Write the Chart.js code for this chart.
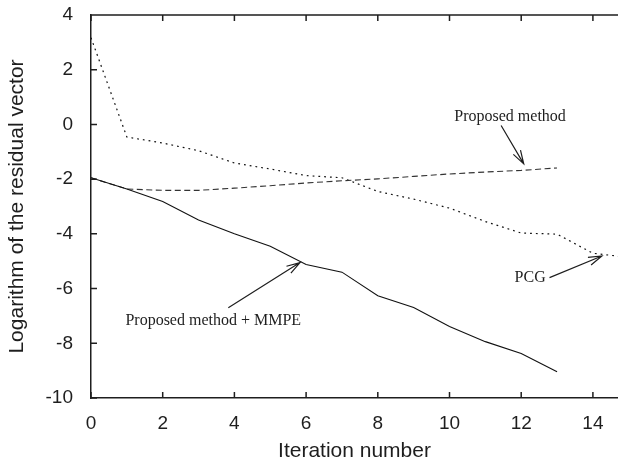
<!DOCTYPE html>
<html>
<head>
<meta charset="utf-8">
<script src="https://cdn.jsdelivr.net/npm/chart.js@4.4.1/dist/chart.umd.min.js"></script>
<style>
    html, body { margin: 0; padding: 0; background: #fff; }
    #wrap { width: 618px; height: 464px; }
</style>
</head>
<body>
<div id="wrap"><canvas id="residual_plot" width="618" height="464"></canvas></div>
<script>
'use strict';

// values
const iterations = [0, 1, 2, 3, 4, 5, 6, 7, 8, 9, 10, 11, 12, 13];
const pcgIterations = [0, 1, 2, 3, 4, 5, 6, 7, 8, 9, 10, 11, 12, 13, 14, 15];
const mmpeValues = [-1.95, -2.36, -2.82, -3.49, -4.0, -4.45, -5.12, -5.40, -6.26, -6.69, -7.39, -7.94, -8.37, -9.04];
const proposedValues = [-1.95, -2.36, -2.41, -2.41, -2.33, -2.24, -2.14, -2.06, -1.99, -1.90, -1.81, -1.74, -1.68, -1.59];
const pcgValues = [3.17, -0.46, -0.68, -0.96, -1.41, -1.63, -1.87, -1.95, -2.45, -2.73, -3.06, -3.55, -3.97, -4.01, -4.71, -4.86];

const xTicks = [0, 2, 4, 6, 8, 10, 12, 14];
const yTicks = [-10, -8, -6, -4, -2, 0, 2, 4];

// labels with arrows, in data units: text position, arrow tail, arrow tip
const notes = [
    { text: 'Proposed method', tx: 11.69, ty: 0.29, ax: 11.44, ay: -0.04, bx: 12.07, by: -1.44 },
    { text: 'PCG', tx: 12.25, ty: -5.61, ax: 12.79, ay: -5.60, bx: 14.25, by: -4.81 },
    { text: 'Proposed method + MMPE', tx: 3.41, ty: -7.17, ax: 3.83, ay: -6.70, bx: 5.83, by: -5.05 }
];

const ink = '#1e1e1e';

function toPoints(xs, ys) {
    return ys.map((y, i) => ({ x: xs[i], y: y }));
}

// inward tick marks + top frame line, gnuplot style
const frameTicks = {
    id: 'frameTicks',
    afterDatasetsDraw(chart) {
        const ctx = chart.ctx;
        const area = chart.chartArea;
        const xs = chart.scales.x;
        const ys = chart.scales.y;
        ctx.save();
        ctx.strokeStyle = ink;
        ctx.lineWidth = 1.5;
        ctx.beginPath();
        ctx.moveTo(area.left, area.top);
        ctx.lineTo(area.right, area.top);
        xTicks.forEach(v => {
            const px = xs.getPixelForValue(v);
            ctx.moveTo(px, area.bottom);
            ctx.lineTo(px, area.bottom - 6);
            ctx.moveTo(px, area.top);
            ctx.lineTo(px, area.top + 6);
        });
        yTicks.forEach(v => {
            const py = ys.getPixelForValue(v);
            ctx.moveTo(area.left, py);
            ctx.lineTo(area.left + 6, py);
        });
        ctx.stroke();
        ctx.restore();
    }
};

const arrowNotes = {
    id: 'arrowNotes',
    afterDatasetsDraw(chart) {
        const ctx = chart.ctx;
        const xs = chart.scales.x;
        const ys = chart.scales.y;
        ctx.save();
        ctx.strokeStyle = ink;
        ctx.fillStyle = ink;
        ctx.lineWidth = 1.2;
        ctx.font = '16px "Liberation Serif", "Times New Roman", serif';
        ctx.textAlign = 'center';
        ctx.textBaseline = 'middle';
        notes.forEach(n => {
            ctx.fillText(n.text, xs.getPixelForValue(n.tx), ys.getPixelForValue(n.ty));
            const x1 = xs.getPixelForValue(n.ax);
            const y1 = ys.getPixelForValue(n.ay);
            const x2 = xs.getPixelForValue(n.bx);
            const y2 = ys.getPixelForValue(n.by);
            const ang = Math.atan2(y2 - y1, x2 - x1);
            const len = 14;
            const spread = 0.3;
            ctx.beginPath();
            ctx.moveTo(x1, y1);
            ctx.lineTo(x2, y2);
            ctx.moveTo(x2 - len * Math.cos(ang - spread), y2 - len * Math.sin(ang - spread));
            ctx.lineTo(x2, y2);
            ctx.lineTo(x2 - len * Math.cos(ang + spread), y2 - len * Math.sin(ang + spread));
            ctx.stroke();
        });
        ctx.restore();
    }
};

const sans = '"Liberation Sans", Arial, Helvetica, sans-serif';

new Chart(document.getElementById('residual_plot'), {
    type: 'line',
    data: {
        datasets: [{
            label: 'Proposed method + MMPE',
            data: toPoints(iterations, mmpeValues),
            borderColor: '#111',
            borderWidth: 1.1,
            pointRadius: 0,
            tension: 0
        }, {
            label: 'Proposed method',
            data: toPoints(iterations, proposedValues),
            borderColor: '#333',
            borderWidth: 1.1,
            borderDash: [6, 3.5],
            pointRadius: 0,
            tension: 0
        }, {
            label: 'PCG',
            data: toPoints(pcgIterations, pcgValues),
            borderColor: '#111',
            borderWidth: 1.2,
            borderDash: [1.8, 4],
            pointRadius: 0,
            tension: 0
        }]
    },
    options: {
        responsive: false,
        animation: false,
        events: [],
        layout: { padding: { top: 15, right: 0, left: 0, bottom: 0 } },
        plugins: {
            legend: { display: false },
            tooltip: { enabled: false }
        },
        scales: {
            x: {
                type: 'linear',
                min: 0,
                max: 14.7,
                afterBuildTicks(scale) {
                    scale.ticks = xTicks.map(v => ({ value: v }));
                },
                afterFit(scale) {
                    scale.height = 66;
                    scale.paddingLeft = 0;
                    scale.paddingRight = 0;
                },
                grid: { display: false, drawTicks: false },
                border: { display: true, color: ink, width: 1.5 },
                ticks: {
                    padding: 14,
                    color: ink,
                    font: { family: sans, size: 19 }
                },
                title: {
                    display: true,
                    text: 'Iteration number',
                    color: ink,
                    padding: { top: 2, bottom: 0 },
                    font: { family: sans, size: 21 }
                }
            },
            y: {
                type: 'linear',
                min: -10,
                max: 4,
                afterBuildTicks(scale) {
                    scale.ticks = yTicks.map(v => ({ value: v }));
                },
                afterFit(scale) {
                    scale.width = 91;
                    scale.paddingTop = 0;
                    scale.paddingBottom = 0;
                },
                grid: { display: false, drawTicks: false },
                border: { display: true, color: ink, width: 1.5 },
                ticks: {
                    padding: 18,
                    color: ink,
                    font: { family: sans, size: 19 }
                },
                title: {
                    display: true,
                    text: 'Logarithm of the residual vector',
                    color: ink,
                    padding: { top: 5, bottom: 0 },
                    font: { family: sans, size: 21 }
                }
            }
        }
    },
    plugins: [frameTicks, arrowNotes]
});
</script>
</body>
</html>
